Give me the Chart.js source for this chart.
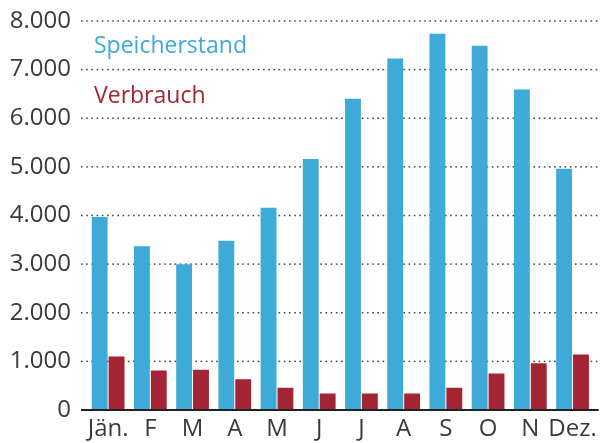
<!DOCTYPE html>
<html>
<head>
<meta charset="utf-8">
<script src="https://cdn.jsdelivr.net/npm/chart.js@4"></script>
<style>
  html, body { margin: 0; padding: 0; background: #fff; }
  #wrap { width: 602px; height: 443px; }
</style>
</head>
<body>
<div id="wrap"><canvas id="speicherChart" width="602" height="443"></canvas></div>
<script>
// Monate und Werte
const months = ['Jän.', 'F', 'M', 'A', 'M', 'J', 'J', 'A', 'S', 'O', 'N', 'Dez.'];
const speicherstand = [3970, 3370, 3000, 3480, 4160, 5160, 6400, 7230, 7740, 7490, 6590, 4960];
const verbrauch = [1100, 810, 830, 630, 460, 340, 340, 340, 460, 750, 960, 1140];
const yTicks = [0, 1000, 2000, 3000, 4000, 5000, 6000, 7000, 8000];

const BLUE = '#3eaad7';
const RED = '#a32433';
const FONT = 'Open Sans';

function formatNum(v) {
    return String(v).replace(/\B(?=(\d{3})+(?!\d))/g, '.');
}

// gepunktete Rasterlinien, etwas breiter als der Plotbereich
const gridPlugin = {
    id: 'dottedGrid',
    beforeDatasetsDraw(chart) {
        const ctx = chart.ctx;
        const area = chart.chartArea;
        const yScale = chart.scales.y;
        const x0 = area.left - 6;
        const x1 = area.right + 6;
        ctx.save();
        ctx.fillStyle = '#444';
        yTicks.forEach(v => {
            if (v === 0) return;
            const y = yScale.getPixelForValue(v);
            for (let x = x0; x < x1; x += 5.2) {
                ctx.fillRect(x, y - 0.75, 1.6, 1.5);
            }
        });
        ctx.restore();
    }
};

// Nulllinie und Legende als farbiger Text oben links
const overlayPlugin = {
    id: 'overlay',
    afterDraw(chart) {
        const ctx = chart.ctx;
        const area = chart.chartArea;
        const y = chart.scales.y.getPixelForValue(0);
        ctx.save();
        ctx.fillStyle = '#222';
        ctx.fillRect(area.left - 6, y - 1, area.right - area.left + 11, 2);

        ctx.font = '23px ' + FONT;
        ctx.textBaseline = 'alphabetic';
        chart.data.datasets.forEach((ds, i) => {
            ctx.fillStyle = ds.backgroundColor;
            ctx.fillText(ds.label, area.left + 7, 53 + i * 50);
        });
        ctx.restore();
    }
};

new Chart(document.getElementById('speicherChart').getContext('2d'), {
    type: 'bar',
    data: {
        labels: months,
        datasets: [{
            label: 'Speicherstand',
            data: speicherstand,
            backgroundColor: BLUE,
            categoryPercentage: 0.8,
            barPercentage: 0.94
        }, {
            label: 'Verbrauch',
            data: verbrauch,
            backgroundColor: RED,
            categoryPercentage: 0.8,
            barPercentage: 0.94
        }]
    },
    options: {
        responsive: false,
        animation: false,
        layout: { padding: { top: 21, right: 6, left: 0, bottom: 0 } },
        scales: {
            x: {
                grid: { display: false, drawTicks: false },
                border: { display: false },
                ticks: {
                    color: '#3a3a3a',
                    font: { family: FONT, size: 24 },
                    padding: 5,
                    maxRotation: 0,
                    autoSkip: false
                },
                afterFit(scale) { scale.height = 33; }
            },
            y: {
                min: 0,
                max: 8000,
                grid: { display: false, drawTicks: false },
                border: { display: false },
                ticks: {
                    stepSize: 1000,
                    color: '#3a3a3a',
                    font: { family: FONT, size: 24 },
                    padding: 16,
                    callback: v => formatNum(v)
                },
                afterFit(scale) {
                    scale.width = 87;
                    scale.paddingTop = 0;
                    scale.paddingBottom = 0;
                }
            }
        },
        plugins: {
            legend: { display: false },
            tooltip: { enabled: false }
        }
    },
    plugins: [gridPlugin, overlayPlugin]
});
</script>
</body>
</html>
